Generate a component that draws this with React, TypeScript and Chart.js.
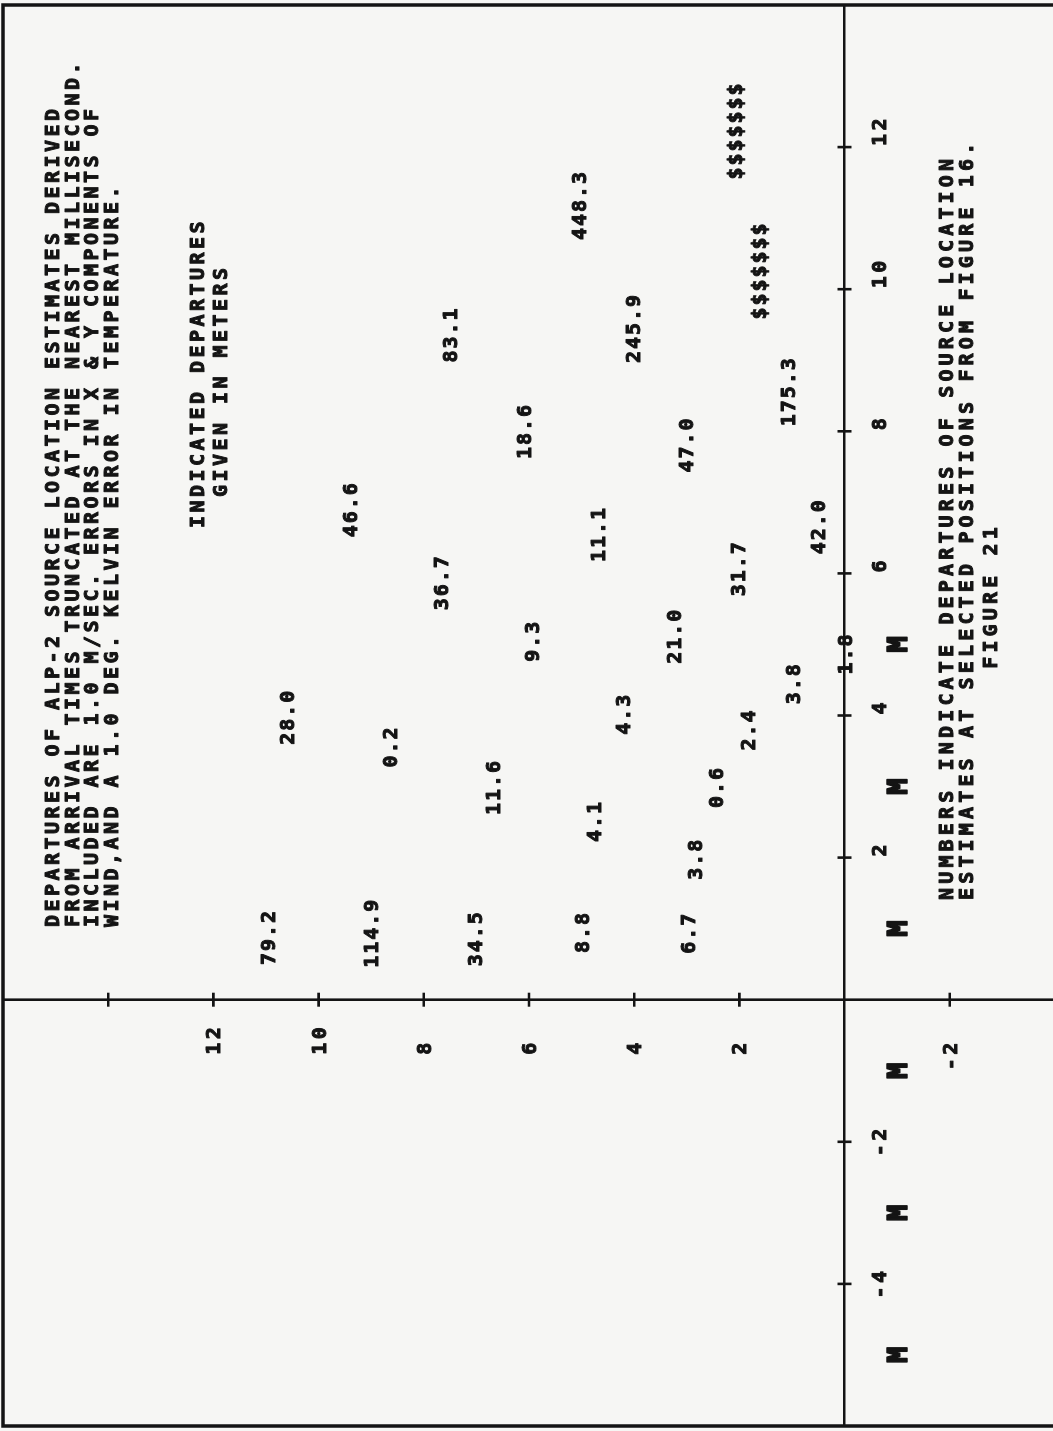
import React, { useEffect, useRef } from 'react';
import { Chart, registerables } from 'chart.js';

Chart.register(...registerables);

// ---------- data ----------
const X_MIN = -6;
const X_MAX = 14;
const Y_MIN = -4;
const Y_MAX = 16;

const X_TICKS = [-4, -2, 2, 4, 6, 8, 10, 12];
const X_TICK_LABELS = ['-4', '-2', '2', '4', '6', '8', '10', '12'];
const Y_TICKS = [-2, 2, 4, 6, 8, 10, 12, 14];
const Y_TICK_LABELS = ['-2', '2', '4', '6', '8', '10', '12', ''];

// microphone positions (drawn as "M")
const MIC_X = [-5, -3, -1, 1, 3, 5];
const MIC_Y = [-1, -1, -1, -1, -1, -1];

// departures (meters) at selected source positions
const DEP_LABELS = [
  '79.2', '114.9', '34.5', '8.8', '6.7',
  '3.8', '4.1', '11.6', '0.2', '28.0',
  '0.6', '2.4', '4.3', '3.8', '1.8',
  '21.0', '9.3', '36.7', '31.7', '42.0',
  '11.1', '46.6', '47.0', '18.6', '175.3',
  '83.1', '245.9', '$$$$$$$', '448.3', '$$$$$$$',
];
const DEP_X = [
  0.87, 0.93, 0.85, 0.94, 0.93,
  1.97, 2.5, 2.98, 3.55, 3.97,
  2.98, 3.79, 4.01, 4.44, 4.86,
  5.11, 5.04, 5.86, 6.06, 6.65,
  6.54, 6.89, 7.8, 7.99, 8.55,
  9.35, 9.44, 10.25, 11.17, 12.22,
];
const DEP_Y = [
  10.97, 9.0, 7.03, 5.0, 2.98,
  2.85, 4.77, 6.69, 8.65, 10.6,
  2.45, 1.83, 4.22, 0.99, 0.0,
  3.25, 5.95, 7.68, 2.02, 0.51,
  4.68, 9.41, 3.02, 6.09, 1.07,
  7.5, 4.03, 1.62, 5.04, 2.09,
];

const TITLE_LINES = [
  'DEPARTURES OF ALP-2 SOURCE LOCATION ESTIMATES DERIVED',
  'FROM ARRIVAL TIMES TRUNCATED AT THE NEAREST MILLISECOND.',
  'INCLUDED ARE 1.0 M/SEC. ERRORS IN X & Y COMPONENTS OF',
  'WIND,AND A 1.0 DEG. KELVIN ERROR IN TEMPERATURE.',
];
const UNIT_LINES = ['INDICATED DEPARTURES', '  GIVEN IN METERS'];
const CAPTION_LINES = [
  'NUMBERS INDICATE DEPARTURES OF SOURCE LOCATION',
  'ESTIMATES AT SELECTED POSITIONS FROM FIGURE 16.',
];
const FIGURE_LABEL = 'FIGURE 21';

// ---------- style ----------
const INK = '#141414';
const PAPER = '#f6f6f4';
const FONT_FAMILY = '"DejaVu Sans Mono", "Liberation Mono", monospace';
const CANVAS_W = 1431;
const CANVAS_H = 1060;

function drawMono(
  ctx: CanvasRenderingContext2D,
  text: string,
  x: number,
  cy: number,
  size: number,
  advance: number,
  align: 'left' | 'center',
  weight = 1.0
) {
  ctx.save();
  ctx.font = `bold ${size}px ${FONT_FAMILY}`;
  const c: any = ctx;
  const hasLS = 'letterSpacing' in c;
  if (hasLS) c.letterSpacing = '0px';
  const natural = ctx.measureText('0').width;
  const capH = ctx.measureText('H').actualBoundingBoxAscent || size * 0.73;
  let width = natural * text.length;
  if (hasLS) {
    const spacing = advance - natural;
    c.letterSpacing = `${spacing}px`;
    width = advance * text.length - spacing;
  }
  const x0 = align === 'center' ? x - width / 2 : x;
  ctx.textAlign = 'left';
  ctx.textBaseline = 'alphabetic';
  ctx.fillStyle = INK;
  ctx.strokeStyle = INK;
  ctx.lineJoin = 'round';
  ctx.lineWidth = weight;
  const by = cy + capH / 2;
  ctx.fillText(text, x0, by);
  if (weight > 0) ctx.strokeText(text, x0, by);
  ctx.restore();
}

const plotterPlugin = {
  id: 'plotter',
  beforeDraw(chart: any) {
    const ctx: CanvasRenderingContext2D = chart.ctx;
    ctx.save();
    ctx.fillStyle = PAPER;
    ctx.fillRect(0, 0, chart.width, chart.height);
    ctx.restore();
  },
  afterDraw(chart: any) {
    const ctx: CanvasRenderingContext2D = chart.ctx;
    const xs = chart.scales.x;
    const ys = chart.scales.y;
    const area = chart.chartArea;
    const axisY = ys.getPixelForValue(0);
    const axisX = xs.getPixelForValue(0);

    // frame
    ctx.save();
    ctx.strokeStyle = INK;
    ctx.lineWidth = 3.5;
    ctx.strokeRect(area.left, area.top, area.right - area.left, area.bottom - area.top);

    // tick crosses
    ctx.lineWidth = 2.6;
    ctx.beginPath();
    xs.ticks.forEach((t: any) => {
      const px = xs.getPixelForValue(t.value);
      ctx.moveTo(px, axisY - 7);
      ctx.lineTo(px, axisY + 7);
    });
    ys.ticks.forEach((t: any) => {
      const py = ys.getPixelForValue(t.value);
      ctx.moveTo(axisX - 7, py);
      ctx.lineTo(axisX + 7, py);
    });
    ctx.stroke();
    ctx.restore();

    const ADV = 15.5;
    // x tick labels: digits start at the tick, sign hangs before it
    xs.ticks.forEach((t: any, i: number) => {
      const label = X_TICK_LABELS[i] || '';
      if (!label) return;
      const px = xs.getPixelForValue(t.value) + 1;
      const start = label.startsWith('-') ? px - ADV : px;
      drawMono(ctx, label, start, axisY + 34, 20, ADV, 'left');
    });
    // y tick labels
    ys.ticks.forEach((t: any, i: number) => {
      const label = Y_TICK_LABELS[i] || '';
      if (!label) return;
      const py = ys.getPixelForValue(t.value);
      const col = axisX - 55;
      const start = label.startsWith('-') ? col - ADV : col;
      drawMono(ctx, label, start, py, 20, ADV, 'left');
    });

    // departure values
    const dep = chart.getDatasetMeta(0);
    dep.data.forEach((el: any, i: number) => {
      drawMono(ctx, DEP_LABELS[i], el.x, el.y, 20, 14, 'center');
    });
    // microphones
    const mic = chart.getDatasetMeta(1);
    mic.data.forEach((el: any) => {
      drawMono(ctx, 'M', el.x, el.y, 27, 16, 'center', 1.6);
    });

    // title block
    const titleV = [52, 71.5, 91, 110.5];
    TITLE_LINES.forEach((line, i) => drawMono(ctx, line, 504, titleV[i], 20, ADV, 'left'));
    // units
    const unitV = [197, 220];
    UNIT_LINES.forEach((line, i) => drawMono(ctx, line, 903, unitV[i], 20, ADV, 'left'));
    // caption
    const capV = [946, 966];
    CAPTION_LINES.forEach((line, i) => drawMono(ctx, line, 531, capV[i], 20, 16.2, 'left'));
    drawMono(ctx, FIGURE_LABEL, 833, 990, 20, 16.2, 'center');
  },
};

export default function App() {
  const canvasRef = useRef<HTMLCanvasElement | null>(null);

  useEffect(() => {
    const canvas = canvasRef.current;
    if (!canvas) return;
    const chart = new Chart(canvas, {
      type: 'scatter',
      data: {
        datasets: [
          {
            label: 'Departures',
            data: DEP_X.map((x, i) => ({ x, y: DEP_Y[i] })),
            pointRadius: 0,
            pointHoverRadius: 0,
          },
          {
            label: 'Microphones',
            data: MIC_X.map((x, i) => ({ x, y: MIC_Y[i] })),
            pointRadius: 0,
            pointHoverRadius: 0,
          },
        ],
      },
      options: {
        animation: false,
        responsive: false,
        devicePixelRatio: 1,
        events: [],
        layout: { padding: { left: 5, right: 5, top: 3, bottom: 5 } },
        plugins: {
          legend: { display: false },
          tooltip: { enabled: false },
          title: { display: false },
        },
        scales: {
          x: {
            type: 'linear',
            min: X_MIN,
            max: X_MAX,
            position: { y: 0 } as any,
            ticks: { display: false, stepSize: 2 },
            grid: { display: false, drawTicks: false },
            border: { display: true, color: INK, width: 2.6 },
            afterBuildTicks: (s: any) => {
              s.ticks = X_TICKS.map((value) => ({ value }));
            },
            afterFit: (s: any) => {
              s.height = 0;
            },
          },
          y: {
            type: 'linear',
            min: Y_MIN,
            max: Y_MAX,
            position: { x: 0 } as any,
            ticks: { display: false, stepSize: 2 },
            grid: { display: false, drawTicks: false },
            border: { display: true, color: INK, width: 2.6 },
            afterBuildTicks: (s: any) => {
              s.ticks = Y_TICKS.map((value) => ({ value }));
            },
            afterFit: (s: any) => {
              s.width = 0;
            },
          },
        },
      } as any,
      plugins: [plotterPlugin],
    });
    return () => chart.destroy();
  }, []);

  return (
    <div
      style={{
        position: 'fixed',
        left: 0,
        top: 0,
        width: 1053,
        height: 1431,
        overflow: 'hidden',
        background: PAPER,
      }}
    >
      <div
        style={{
          position: 'absolute',
          left: 0,
          top: 0,
          width: CANVAS_W,
          height: CANVAS_H,
          transformOrigin: '0 0',
          transform: `translate(0px, ${CANVAS_W}px) rotate(-90deg)`,
        }}
      >
        <canvas
          ref={canvasRef}
          width={CANVAS_W}
          height={CANVAS_H}
          style={{ display: 'block', width: CANVAS_W, height: CANVAS_H }}
        />
      </div>
    </div>
  );
}
